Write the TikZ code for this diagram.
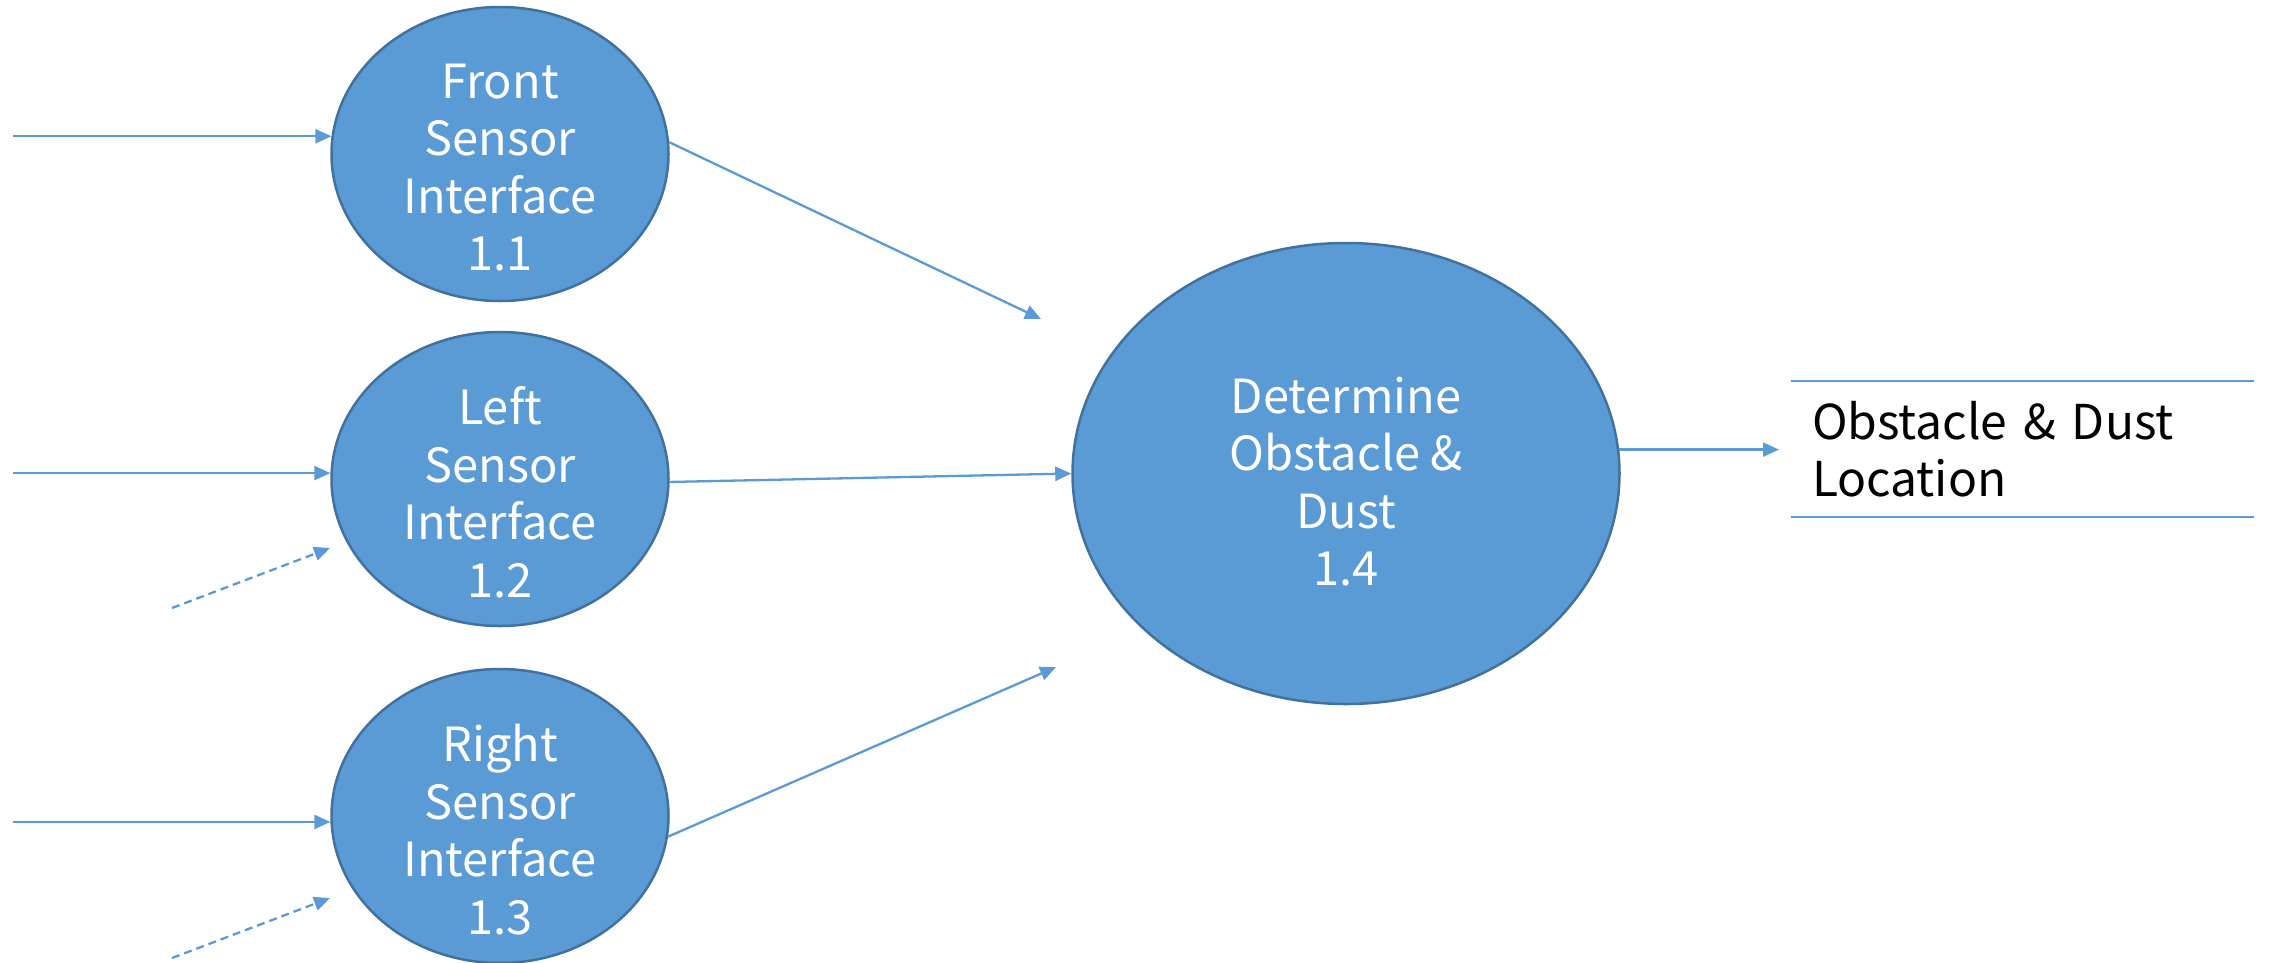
\documentclass[tikz,border=0pt]{standalone}
\usepackage{fontspec}
\setmainfont{Noto Sans CJK KR}
\usetikzlibrary{shapes.geometric,arrows.meta,calc}
\definecolor{procfill}{HTML}{5B9BD5}
\definecolor{procline}{HTML}{41719C}
\definecolor{flowcol}{HTML}{5B9BD5}
\begin{document}
\begin{tikzpicture}[x=1pt,y=-1pt,
  proc/.style={ellipse, fill=procfill, draw=procline, line width=2.5pt, inner sep=0pt},
  smallproc/.style={proc, minimum width=337pt, minimum height=294pt},
  bigproc/.style={proc, minimum width=547pt, minimum height=461pt},
  ptext/.style={text=white, align=center, inner sep=0pt, font=\fontsize{47}{57.5}\selectfont},
  flow/.style={draw=flowcol, line width=2.3pt, -{Triangle[length=16pt,width=14pt]}},
  dflow/.style={flow, dash pattern=on 8pt off 5pt},
  store/.style={minimum width=463pt, minimum height=136pt, inner xsep=21pt, inner ysep=0pt,
    text width=421pt, align=left, font=\fontsize{48}{57.5}\selectfont},
  storeline/.style={draw=flowcol, line width=2pt}
  ]
\useasboundingbox (0,0) rectangle (2269,962);

% processes
\node[smallproc] (p11) at (500,154) {};
\node[smallproc] (p12) at (500,479) {};
\node[smallproc] (p13) at (500,816) {};
\node[bigproc] (p14) at (1346,473.5) {};

\node[ptext] (t11) at (500,167.5) {Front\\Sensor\\Interface\\1.1};
\node[ptext] (t12) at (500,492.5) {Left\\Sensor\\Interface\\1.2};
\node[ptext] (t13) at (500,829.5) {Right\\Sensor\\Interface\\1.3};
\node[ptext] (t14) at (1346,481.5) {Determine\\Obstacle \&\\Dust\\1.4};

% data store
\node[store] (ds) at (2022.5,449) {Obstacle \& Dust\\Location};
\draw[storeline] (ds.north west) -- (ds.north east);
\draw[storeline] (ds.south west) -- (ds.south east);

% free ends
\coordinate (lft) at (13,0);
\coordinate (d2s) at (172,608);
\coordinate (d2e) at (330,548);
\coordinate (d3s) at (172,958);
\coordinate (d3e) at (330,898);
\coordinate (e1) at (1041,319);
\coordinate (e3) at (1056,667);
\coordinate (oe) at (1779,0);

% inputs
\draw[flow] (p11.174 -| lft) -- (p11.174);
\draw[flow] (p12.178 -| lft) -- (p12.178);
\draw[flow] (p13.182 -| lft) -- (p13.182);
\draw[dflow] (d2s) -- (d2e);
\draw[dflow] (d3s) -- (d3e);

% to 1.4
\draw[flow] (p11.4) -- (e1);
\draw[flow] (p12.-1) -- (p14.west);
\draw[flow] (p13.-7) -- (e3);

% output
\draw[flow] (p14.5) -- (p14.5 -| oe);
\end{tikzpicture}
\end{document}
